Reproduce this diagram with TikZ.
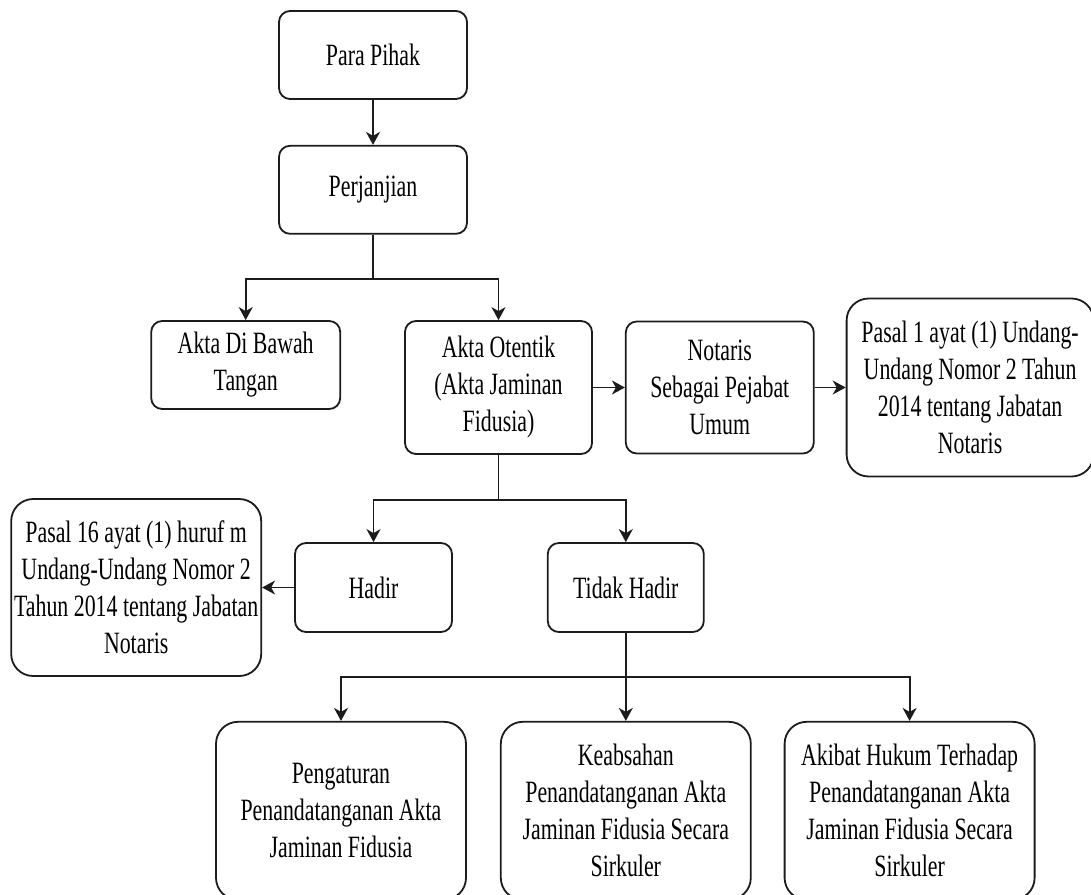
\documentclass[tikz,border=0pt]{standalone}
\usepackage{fontspec}
\setmainfont[FakeStretch=0.705]{Liberation Serif}
\usetikzlibrary{arrows.meta,positioning}
\definecolor{Ink}{HTML}{1C1C1C}
\tikzset{
  box/.style={
    rounded corners=11pt, draw=Ink, line width=1.8pt, fill=white,
    minimum width=188pt, minimum height=88pt, align=center, inner sep=2pt,
    font=\fontsize{31pt}{37pt}\selectfont
  },
  widebox/.style={
    box, rounded corners=22pt, minimum width=250pt, minimum height=177pt
  },
  flow/.style={-{Stealth[length=13pt,width=14pt,inset=4pt]}, line width=1.8pt, draw=Ink}
}
\begin{document}
\begin{tikzpicture}[node distance=32pt]
    \useasboundingbox (0,0) rectangle (1091pt,-894pt);
    \node[box] (pihak) at (373pt,-55pt) {Para Pihak};
    \node[box,below=45pt of pihak] (perjanjian) {Perjanjian};
    \node[box,minimum width=187pt,minimum height=133pt] (otentik) at (498.5pt,-387.5pt) {Akta Otentik\\(Akta Jaminan\\Fidusia)};
    \node[box,left=63pt of otentik.north west,anchor=north east,minimum width=189pt] (bawah) {Akta Di Bawah\\Tangan};
    \node[box,right=of otentik,minimum height=132pt] (notaris) {Notaris\\Sebagai Pejabat\\Umum};
    \node[widebox,right=31pt of notaris,minimum width=247pt,minimum height=178pt] (pasalsatu) {Pasal 1 ayat (1) Undang-\\Undang Nomor 2 Tahun\\2014 tentang Jabatan\\Notaris};
    \node[box,minimum width=157pt,minimum height=89pt] (hadir) at (373.5pt,-587.5pt) {Hadir};
    \node[box,right=94pt of hadir,minimum width=156pt,minimum height=89pt] (tidak) {Tidak Hadir};
    \node[widebox,left=of hadir] (pasalenam) {Pasal 16 ayat (1) huruf m\\Undang-Undang Nomor 2\\Tahun 2014 tentang Jabatan\\Notaris};
    \node[widebox,below=88pt of tidak,minimum height=178pt] (keabsahan) {Keabsahan\\Penandatanganan Akta\\Jaminan Fidusia Secara\\Sirkuler};
    \node[widebox,left=33pt of keabsahan,minimum height=178pt] (pengaturan) {Pengaturan\\Penandatanganan Akta\\Jaminan Fidusia};
    \node[widebox,right=of keabsahan,minimum height=178pt] (akibat) {Akibat Hukum Terhadap\\Penandatanganan Akta\\Jaminan Fidusia Secara\\Sirkuler};
    \draw[flow] (pihak)--(perjanjian);
    \draw[flow] (perjanjian.south)--++(0,-44pt)-|(bawah.north);
    \draw[flow] (perjanjian.south)--++(0,-44pt)-|(otentik.north);
    \draw[flow] (otentik)--(notaris);
    \draw[flow] (notaris)--(pasalsatu);
    \draw[flow] (otentik.south)--++(0,-45pt)-|(hadir.north);
    \draw[flow] (otentik.south)--++(0,-45pt)-|(tidak.north);
    \draw[flow] (hadir)--(pasalenam);
    \draw[flow] (tidak.south)--++(0,-44pt)-|(pengaturan.north);
    \draw[flow] (tidak.south)--(tidak.south|-keabsahan.north);
    \draw[flow] (tidak.south)--++(0,-44pt)-|(akibat.north);
  \end{tikzpicture}
\end{document}
